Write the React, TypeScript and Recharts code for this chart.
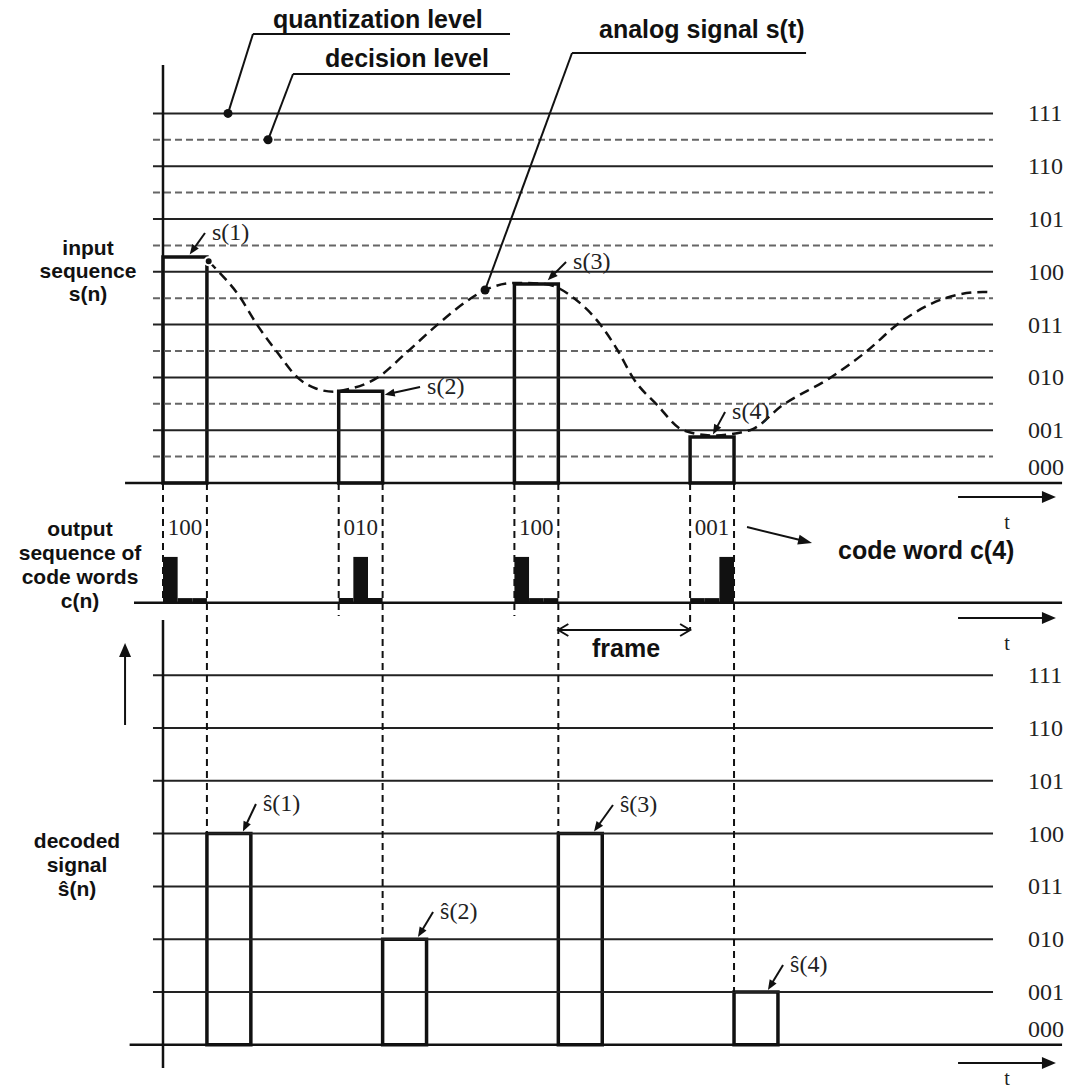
import React from 'react';
import {
  ComposedChart,
  Line,
  XAxis,
  YAxis,
  ReferenceLine,
  ReferenceArea,
  ReferenceDot,
} from 'recharts';

const WIDTH = 1067;
const HEIGHT = 1090;

// x: one unit = one sampling period, y: one unit = one quantization step
const X_DOMAIN: [number, number] = [-0.9277, 5.1451];
const Y_DOMAIN: [number, number] = [-11.4962, 9.1477];

const LEVEL_CODES = ['000', '001', '010', '011', '100', '101', '110', '111'];
const SAMPLE_TIMES = [0, 1, 2, 3];
const INPUT_VALUES = [4.28, 1.74, 3.77, 0.87];
const CODE_WORDS = ['100', '010', '100', '001'];
const DECODED_LEVELS = [4, 2, 4, 1];

// analog signal s(t)
const ANALOG_T = [
  0.26, 0.3, 0.43, 0.535, 0.649, 0.768, 0.87, 0.97, 1.06, 1.218, 1.389, 1.559, 1.747, 1.833,
  2.009, 2.174, 2.345, 2.487, 2.59, 2.675, 2.812, 2.96, 3.13, 3.341, 3.529, 3.796, 4.007,
  4.183, 4.439, 4.667, 4.72,
];
const ANALOG_V = [
  4.2, 4.06, 3.56, 3.0, 2.48, 1.99, 1.79, 1.73, 1.78, 1.99, 2.48, 2.99, 3.485, 3.655, 3.79,
  3.77, 3.485, 3.01, 2.5, 1.99, 1.48, 1.0, 0.9, 1.0, 1.48, 1.99, 2.5, 3.01, 3.485, 3.617, 3.61,
];

// panel layout (level units)
const TOP_BASE = 0;
const CODE_BASE = -2.27;
const BOTTOM_BASE = -10.64;
const SAMPLE_W = 0.25;
const BIT_HIGH = 0.87;
const BIT_LOW = 0.09;
const GRID_T = [-0.057, 4.724];
const BASE_END = 5.117;
const LABEL_T = 4.923;
const CODE_LABEL_V = -0.852;
const FRAME_V = -2.784;
const ARROW_T = [4.525, 5.082];

const INK = '#111';
const SANS = '"Liberation Sans", Arial, sans-serif';
const SERIF = '"Liberation Serif", "Times New Roman", serif';

// annotation arrows (tail -> tip), in chart units
const INPUT_ARROWS = [
  { from: [0.239, 4.735], to: [0.152, 4.33], text: 's(1)' },
  { from: [1.463, 1.818], to: [1.262, 1.67], text: 's(2)' },
  { from: [2.294, 4.186], to: [2.19, 3.84], text: 's(3)' },
  { from: [3.199, 1.345], to: [3.13, 0.92], text: 's(4)' },
];
const DECODED_ARROWS = [
  { from: [0.529, -6.08], to: [0.455, -6.6], text: 'ŝ(1)' },
  { from: [1.537, -8.125], to: [1.451, -8.6], text: 'ŝ(2)' },
  { from: [2.561, -6.098], to: [2.453, -6.6], text: 'ŝ(3)' },
  { from: [3.529, -9.129], to: [3.443, -9.6], text: 'ŝ(4)' },
];
const TITLE_LEADERS = [
  { line: [0.512, 1.975], v: 8.504, dot: [0.37, 7.0] },
  { line: [0.74, 1.975], v: 7.746, dot: [0.598, 6.5] },
  { line: [2.328, 3.66], v: 8.144, dot: [1.833, 3.655] },
];

function arrowShape(head: number, half: number, opts: { both?: boolean; open?: boolean; width?: number } = {}) {
  const { both = false, open = false, width = 2 } = opts;
  return (p: any) => {
    const { x1, y1, x2, y2 } = p;
    const len = Math.hypot(x2 - x1, y2 - y1) || 1;
    const ux = (x2 - x1) / len;
    const uy = (y2 - y1) / len;
    const tip = (x: number, y: number, dx: number, dy: number, key: string) => {
      const bx = x - dx * head;
      const by = y - dy * head;
      const a = `${bx - dy * half},${by + dx * half}`;
      const b = `${bx + dy * half},${by - dx * half}`;
      return open ? (
        <polyline key={key} points={`${a} ${x},${y} ${b}`} fill="none" stroke={INK} strokeWidth={width} />
      ) : (
        <polygon key={key} points={`${a} ${x},${y} ${b}`} fill={INK} />
      );
    };
    const cut = open ? 0 : head * 0.8;
    return (
      <g>
        <line
          x1={both ? x1 + ux * cut : x1}
          y1={both ? y1 + uy * cut : y1}
          x2={x2 - ux * cut}
          y2={y2 - uy * cut}
          stroke={INK}
          strokeWidth={width}
        />
        {tip(x2, y2, ux, uy, 'e')}
        {both && tip(x1, y1, -ux, -uy, 's')}
      </g>
    );
  };
}

function labelledArrow(text: string) {
  const draw = arrowShape(10, 4, { width: 2 });
  return (p: any) => (
    <g>
      {draw(p)}
      <text x={p.x1 + 7} y={p.y1 - 1} dominantBaseline="central" fontFamily={SERIF} fontSize={24} fill="#222">
        {text}
      </text>
    </g>
  );
}

function textShape(text: string, anchor: 'start' | 'middle' = 'start', size = 24) {
  return (p: any) => (
    <text x={p.cx} y={p.cy} textAnchor={anchor} dominantBaseline="central" fontFamily={SERIF} fontSize={size} fill="#222">
      {text}
    </text>
  );
}

const seg = (x1: number, y1: number, x2: number, y2: number) => [
  { x: x1, y: y1 },
  { x: x2, y: y2 },
];

export default function App() {
  const data = ANALOG_T.map((t, i) => ({ t, v: ANALOG_V[i] }));
  const panels = [TOP_BASE, BOTTOM_BASE];

  return (
    <div style={{ position: 'absolute', left: 0, top: 0, width: WIDTH, height: HEIGHT, background: '#fff' }}>
      <ComposedChart width={WIDTH} height={HEIGHT} data={data} margin={{ top: 0, right: 0, bottom: 0, left: 0 }}>
        <XAxis type="number" dataKey="t" domain={X_DOMAIN} allowDataOverflow hide />
        <YAxis type="number" domain={Y_DOMAIN} allowDataOverflow hide />

        {/* decision levels (top panel only) */}
        {LEVEL_CODES.slice(1).map((_, k) => (
          <ReferenceLine
            key={`d${k}`}
            segment={seg(GRID_T[0], TOP_BASE + k + 0.5, GRID_T[1], TOP_BASE + k + 0.5)}
            stroke="#666"
            strokeWidth={2}
            strokeDasharray="7 4"
          />
        ))}

        {/* quantization levels */}
        {panels.map((base, p) =>
          LEVEL_CODES.slice(1).map((_, k) => (
            <ReferenceLine
              key={`q${p}-${k}`}
              segment={seg(GRID_T[0], base + k + 1, GRID_T[1], base + k + 1)}
              stroke="#222"
              strokeWidth={2}
            />
          ))
        )}

        {/* level code labels */}
        {panels.map((base, p) =>
          LEVEL_CODES.map((code, k) => (
            <ReferenceDot
              key={`l${p}-${k}`}
              x={LABEL_T}
              y={base + (k === 0 ? 0.3 : k)}
              r={1}
              shape={textShape(code)}
            />
          ))
        )}

        {/* base lines and vertical axes */}
        <ReferenceLine segment={seg(-0.216, TOP_BASE, BASE_END, TOP_BASE)} stroke={INK} strokeWidth={2.5} />
        <ReferenceLine segment={seg(-0.165, CODE_BASE, BASE_END, CODE_BASE)} stroke={INK} strokeWidth={2.5} />
        <ReferenceLine segment={seg(-0.19, BOTTOM_BASE, BASE_END, BOTTOM_BASE)} stroke={INK} strokeWidth={2.5} />
        <ReferenceLine segment={seg(0, TOP_BASE, 0, 7.917)} stroke={INK} strokeWidth={2.5} />
        <ReferenceLine segment={seg(0, -2.595, 0, -11.08)} stroke={INK} strokeWidth={2.5} />

        {/* projection lines between the panels */}
        {SAMPLE_TIMES.map((t, n) => (
          <ReferenceLine
            key={`vl${n}`}
            segment={seg(t, TOP_BASE, t, n === 0 ? CODE_BASE : n === 3 ? FRAME_V : CODE_BASE - 0.25)}
            stroke={INK}
            strokeWidth={2}
            strokeDasharray="7 5"
          />
        ))}
        {SAMPLE_TIMES.map((t, n) => (
          <ReferenceLine
            key={`vr${n}`}
            segment={seg(t + SAMPLE_W, TOP_BASE, t + SAMPLE_W, BOTTOM_BASE + DECODED_LEVELS[n])}
            stroke={INK}
            strokeWidth={2}
            strokeDasharray="7 5"
          />
        ))}

        {/* input samples s(n) */}
        {SAMPLE_TIMES.map((t, n) => (
          <ReferenceArea
            key={`s${n}`}
            x1={t}
            x2={t + SAMPLE_W}
            y1={TOP_BASE}
            y2={TOP_BASE + INPUT_VALUES[n]}
            fill="none"
            fillOpacity={0}
            stroke={INK}
            strokeWidth={3.5}
          />
        ))}

        {/* decoded samples */}
        {SAMPLE_TIMES.map((t, n) => (
          <ReferenceArea
            key={`r${n}`}
            x1={t + SAMPLE_W}
            x2={t + 2 * SAMPLE_W}
            y1={BOTTOM_BASE}
            y2={BOTTOM_BASE + DECODED_LEVELS[n]}
            fill="none"
            fillOpacity={0}
            stroke={INK}
            strokeWidth={3.5}
          />
        ))}

        {/* code words */}
        {SAMPLE_TIMES.map((t, n) =>
          CODE_WORDS[n].split('').map((bit, k) => (
            <ReferenceArea
              key={`c${n}-${k}`}
              x1={t + (k * SAMPLE_W) / 3}
              x2={t + ((k + 1) * SAMPLE_W) / 3}
              y1={CODE_BASE}
              y2={CODE_BASE + (bit === '1' ? BIT_HIGH : BIT_LOW)}
              fill={INK}
              fillOpacity={1}
              stroke="none"
            />
          ))
        )}
        {SAMPLE_TIMES.map((t, n) => (
          <ReferenceDot
            key={`cl${n}`}
            x={t + SAMPLE_W / 2}
            y={CODE_LABEL_V}
            r={1}
            shape={textShape(CODE_WORDS[n], 'middle', 23)}
          />
        ))}

        {/* analog signal */}
        <Line
          type="monotone"
          dataKey="v"
          stroke={INK}
          strokeWidth={2.5}
          strokeDasharray="10 6"
          dot={false}
          isAnimationActive={false}
        />

        {/* title leaders */}
        {TITLE_LEADERS.map((l, i) => (
          <ReferenceLine key={`tu${i}`} segment={seg(l.line[0], l.v, l.line[1], l.v)} stroke={INK} strokeWidth={2} />
        ))}
        {TITLE_LEADERS.map((l, i) => (
          <ReferenceLine key={`tl${i}`} segment={seg(l.line[0], l.v, l.dot[0], l.dot[1])} stroke={INK} strokeWidth={2} />
        ))}
        {TITLE_LEADERS.map((l, i) => (
          <ReferenceDot key={`td${i}`} x={l.dot[0]} y={l.dot[1]} r={4.5} fill={INK} stroke="none" />
        ))}

        {/* sample annotations */}
        {[...INPUT_ARROWS, ...DECODED_ARROWS].map((a, i) => (
          <ReferenceLine
            key={`a${i}`}
            segment={seg(a.from[0], a.from[1], a.to[0], a.to[1])}
            shape={labelledArrow(a.text)}
          />
        ))}

        {/* time arrows */}
        {[-0.265, -2.557, -10.985].map((v, i) => (
          <ReferenceLine key={`ta${i}`} segment={seg(ARROW_T[0], v, ARROW_T[1], v)} shape={arrowShape(14, 6)} />
        ))}
        <ReferenceLine segment={seg(-0.216, -4.583, -0.216, -3.03)} shape={arrowShape(14, 6)} />
        <ReferenceLine segment={seg(2.25, FRAME_V, 3, FRAME_V)} shape={arrowShape(10, 6, { both: true, open: true })} />
        <ReferenceLine segment={seg(3.324, -0.833, 3.694, -1.136)} shape={arrowShape(14, 5)} />
      </ComposedChart>

      <svg
        width={WIDTH}
        height={HEIGHT}
        style={{ position: 'absolute', left: 0, top: 0, pointerEvents: 'none' }}
      >
        <g fontFamily={SANS} fontWeight="bold" fontSize={25} fill={INK}>
          <text x={273} y={28}>quantization level</text>
          <text x={325} y={67}>decision level</text>
          <text x={599} y={38}>analog signal s(t)</text>
          <text x={838} y={559}>code word c(4)</text>
          <text x={626} y={657} textAnchor="middle">frame</text>
        </g>
        <g fontFamily={SANS} fontWeight="bold" fontSize={21} fill={INK} textAnchor="middle" dominantBaseline="central">
          <text x={88} y={247}>input</text>
          <text x={88} y={270}>sequence</text>
          <text x={88} y={293}>s(n)</text>
          <text x={80} y={528}>output</text>
          <text x={80} y={552}>sequence of</text>
          <text x={80} y={576}>code words</text>
          <text x={80} y={600}>c(n)</text>
          <text x={77} y={840}>decoded</text>
          <text x={77} y={864}>signal</text>
          <text x={77} y={888}>ŝ(n)</text>
        </g>
        <g fontFamily={SERIF} fontSize={20} fill="#222" textAnchor="middle" dominantBaseline="central">
          <text x={1007} y={522}>t</text>
          <text x={1007} y={643}>t</text>
          <text x={1007} y={1078}>t</text>
        </g>
      </svg>
    </div>
  );
}
